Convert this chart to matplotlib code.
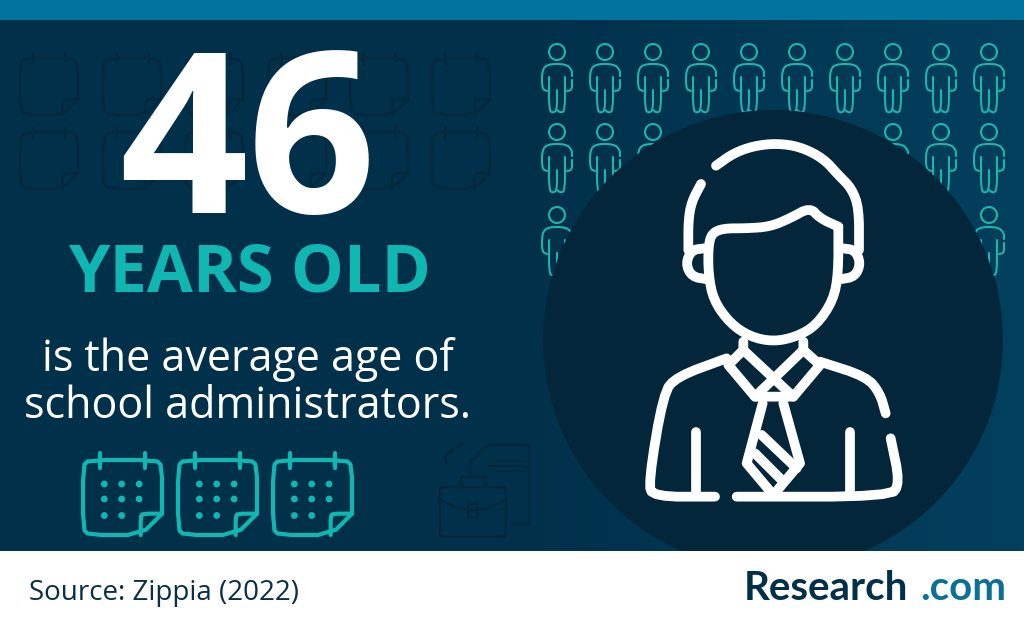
import matplotlib
matplotlib.use('Agg')
import matplotlib.pyplot as plt
from matplotlib.patches import Circle, FancyBboxPatch, Rectangle, Polygon
import numpy as np

# text of the card
value = '46'
unit = 'YEARS OLD'
caption = ['is the average age of', 'school administrators.']
source = 'Source: Zippia (2022)'
logo = ['Research', '.com']

# icon grids, pixel positions in the picture
person_x = [557, 605, 653, 701, 749, 797, 845, 893, 941, 989]
person_y = [52, 132, 215]
faint_x = [20, 103, 185, 268, 350, 432]
faint_y = [58, 132]
calendar_x = [83, 178, 273]

navy = '#01304a'
band = '#02739c'
teal = '#10b7b2'
person_col = '#1fb3aa'
dark = '#04263a'
white = '#ffffff'


def chaikin(pts, n=2):
    # rounds off the corners of a hand traced outline
    pts = np.array(pts, dtype=float)
    for _ in range(n):
        q = pts[:-1] * 0.75 + pts[1:] * 0.25
        r = pts[:-1] * 0.25 + pts[1:] * 0.75
        mid = np.empty((len(q) * 2, 2))
        mid[0::2] = q
        mid[1::2] = r
        pts = np.vstack([pts[0], mid, pts[-1]])
    return pts


def stroke(pts, color, lw, smooth=2, zorder=5):
    p = chaikin(pts, smooth) if smooth else np.array(pts, dtype=float)
    ax.plot(p[:, 0], p[:, 1], color=color, lw=lw, solid_capstyle='round',
            solid_joinstyle='round', zorder=zorder)


def person(x, y):
    ax.add_patch(Circle((x, y), 8, fill=False, ec=person_col, lw=1.5, zorder=2))
    parts = [
        [(15, 24), (15, 18), (9, 12), (-9, 12), (-15, 18), (-15, 37), (-10, 39)],
        [(15, 28), (15, 38), (10, 39)],
        [(-8, 25), (-8, 58), (-4, 61), (0, 58), (0, 38)],
        [(8, 25), (8, 58), (4, 61), (0, 58)],
    ]
    for part in parts:
        stroke([(x + a, y + b) for a, b in part], person_col, 1.5, zorder=2)


def calendar(x, y, w, h, color, lw, dots=True, zorder=3):
    f = w * 0.27
    outline = [(x + w, y + h - f), (x + w, y + 6), (x + w - 6, y), (x + 6, y), (x, y + 6),
               (x, y + h - 6), (x + 6, y + h), (x + w - f, y + h), (x + w, y + h - f)]
    stroke(outline, color, lw, smooth=1, zorder=zorder)
    stroke([(x + w, y + h - f), (x + w - f + 2, y + h - f), (x + w - f, y + h - f + 3), (x + w - f, y + h)],
           color, lw, smooth=1, zorder=zorder)
    for t in (0.22, 0.78):
        stroke([(x + w * t, y - h * 0.09), (x + w * t, y + h * 0.1)], color, lw, smooth=0, zorder=zorder)
    if dots:
        for i, dy in enumerate((0.32, 0.52, 0.74)):
            for j, dx in enumerate((0.27, 0.49, 0.71)):
                if i == 2 and j == 2:
                    continue
                ax.add_patch(Circle((x + w * dx, y + h * dy), 3.4, fc=color, ec='none', zorder=zorder))


def man(color, lw):
    def z(pts):
        return [(620 + a / 3, 120 + b / 3) for a, b in pts]
    lines = [
        [(288, 137), (340, 100), (400, 78), (470, 70), (540, 80), (610, 115), (655, 165), (695, 205), (717, 265), (717, 390)],
        [(243, 192), (215, 245), (205, 300), (205, 390)],
        [(252, 385), (215, 390), (197, 430), (215, 470), (262, 478)],
        [(668, 385), (705, 390), (722, 430), (705, 470), (660, 478)],
        [(655, 320), (655, 460), (640, 540), (590, 615), (530, 650), (460, 665), (390, 650), (330, 610), (280, 540),
         (265, 460), (265, 380), (275, 340), (310, 325), (380, 325), (450, 320), (510, 295), (570, 262), (600, 295), (655, 320)],
        [(320, 715), (170, 770), (130, 820), (85, 1090), (100, 1130), (285, 1130)],
        [(350, 1130), (810, 1130), (840, 1090), (812, 955)],
        [(600, 725), (740, 770), (780, 820), (797, 880)],
    ]
    straight = [
        [(370, 665), (370, 690), (325, 735), (405, 830), (520, 830), (600, 735), (550, 690), (550, 665)],
        [(370, 690), (520, 830)],
        [(550, 690), (405, 830)],
        [(428, 850), (380, 1030), (460, 1125), (540, 1030), (490, 850)],
        [(425, 945), (530, 1045)],
        [(405, 1000), (490, 1085)],
        [(228, 935), (228, 1125)],
        [(690, 935), (690, 1125)],
    ]
    for line in lines:
        stroke(z(line), color, lw, smooth=2, zorder=6)
    for line in straight:
        stroke(z(line), color, lw, smooth=0, zorder=6)


def briefcase():
    c = '#05273b'
    ax.add_patch(FancyBboxPatch((440, 487), 66, 50, boxstyle='round,pad=0,rounding_size=4', fill=False, ec=c, lw=1.8, zorder=2))
    stroke([(461, 486), (461, 476), (485, 476), (485, 486)], c, 1.8, smooth=0, zorder=2)
    stroke([(440, 500), (462, 510), (484, 510), (506, 500)], c, 1.8, smooth=1, zorder=2)
    ax.add_patch(Rectangle((468, 503), 9, 14, fill=False, ec=c, lw=1.8, zorder=2))
    stroke([(470, 474), (470, 462), (488, 445), (529, 445), (529, 524), (512, 524)], c, 1.8, smooth=0, zorder=2)
    for yy, x0 in zip((461, 466, 471), (492, 488, 496)):
        stroke([(x0, yy), (525, yy)], c, 1.2, smooth=0, zorder=2)
    stroke([(448, 466), (444, 456), (452, 450), (462, 444)], c, 1.8, smooth=1, zorder=2)


fig = plt.figure(figsize=(10.24, 6.25), dpi=100)
ax = fig.add_axes([0, 0, 1, 1])
ax.set_xlim(0, 1024)
ax.set_ylim(625, 0)
ax.axis('off')

# background, a little lighter on the right
from matplotlib.colors import LinearSegmentedColormap
grad = LinearSegmentedColormap.from_list('bg', [navy, navy, '#03405e'])
ax.imshow(np.linspace(0, 1, 256).reshape(1, -1), extent=(0, 1024, 551, 0), cmap=grad, aspect='auto', zorder=0)
ax.set_xlim(0, 1024)
ax.set_ylim(625, 0)
ax.add_patch(Rectangle((0, 0), 1024, 20, fc=band, ec='none', zorder=1))

for fx in faint_x:
    for fy in faint_y:
        calendar(fx, fy, 58, 57, '#04293f', 2.0, dots=False, zorder=1)

for py in person_y:
    for px in person_x:
        person(px, py)

ax.add_patch(Circle((773, 340), 230, fc=dark, ec='none', zorder=4))
man(white, 7.0)

for cx in calendar_x:
    calendar(cx, 460, 79, 75, teal, 3.0)
briefcase()

ax.add_patch(Rectangle((0, 551), 1024, 74, fc=white, ec='none', zorder=7))

ff = 'Open Sans'
ax.text(248, 213, value, fontsize=162, fontweight='bold', family=ff, color=white, ha='center', va='baseline', zorder=8)
ax.text(249, 292, unit, fontsize=48, fontweight='bold', family=ff, color=teal, ha='center', va='baseline', zorder=8)
ax.text(248, 371, caption[0], fontsize=31, family=ff, color=white, ha='center', va='baseline', zorder=8)
ax.text(248, 418, caption[1], fontsize=31, family=ff, color=white, ha='center', va='baseline', zorder=8)
ax.text(29, 600, source, fontsize=20, family=ff, color='#0a2f45', ha='left', va='baseline', zorder=8)
ax.text(744, 600, logo[0], fontsize=29, fontweight='bold', family='Lato', color='#02304a', ha='left', va='baseline', zorder=8)
ax.text(1006, 600, logo[1], fontsize=29, fontweight='bold', family='Lato', color='#0b7096', ha='right', va='baseline', zorder=8)

fig.savefig('out.png', dpi=100)
